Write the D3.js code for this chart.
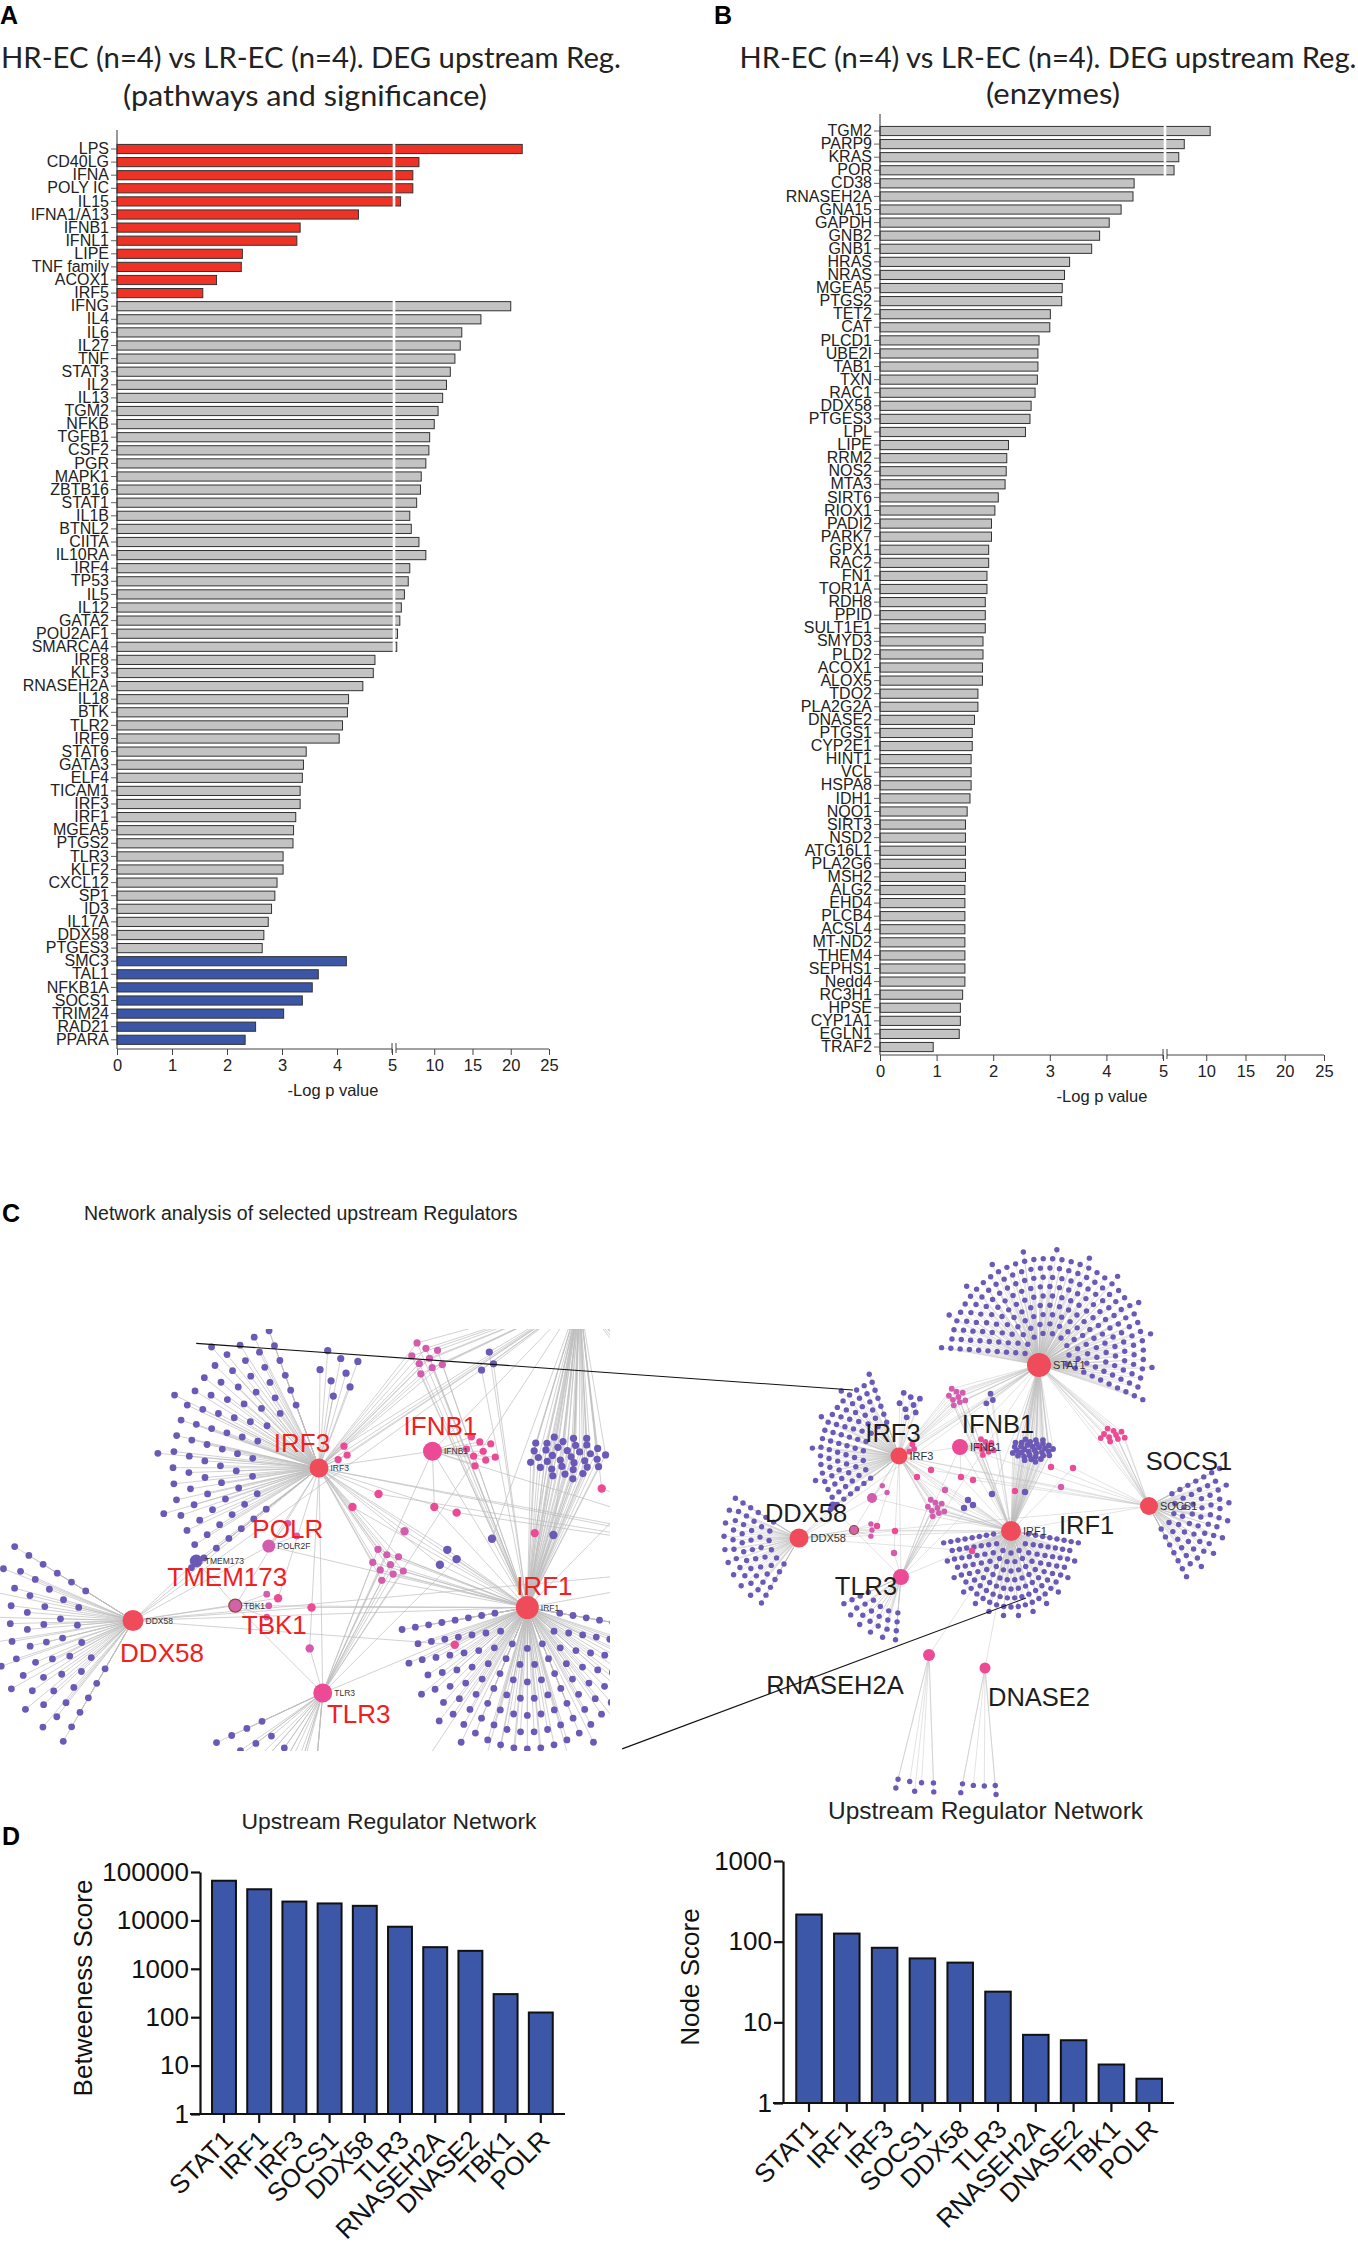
<!DOCTYPE html>
<html>
<head>
<meta charset="utf-8">
<script src="https://d3js.org/d3.v7.min.js"></script>
<style>
  body { margin: 0; background: #fff; }
  text { font-family: "Liberation Sans", Arial, sans-serif; }
</style>
</head>
<body>
<svg id="fig" width="1358" height="2243"></svg>
<script>
// ---------------- data ----------------
// A: upstream regulators (pathways and significance), -log p
const activatedRegulators = ["LPS","CD40LG","IFNA","POLY IC","IL15","IFNA1/A13","IFNB1","IFNL1","LIPE","TNF family","ACOX1","IRF5"];
const activatedValues = [21.5, 8.0, 7.2, 7.2, 5.6, 4.39, 3.33, 3.27, 2.28, 2.26, 1.81, 1.56];
const neutralRegulators = ["IFNG","IL4","IL6","IL27","TNF","STAT3","IL2","IL13","TGM2","NFKB","TGFB1","CSF2","PGR","MAPK1","ZBTB16",
  "STAT1","IL1B","BTNL2","CIITA","IL10RA","IRF4","TP53","IL5","IL12","GATA2","POU2AF1","SMARCA4","IRF8","KLF3","RNASEH2A",
  "IL18","BTK","TLR2","IRF9","STAT6","GATA3","ELF4","TICAM1","IRF3","IRF1","MGEA5","PTGS2","TLR3","KLF2","CXCL12","SP1","ID3",
  "IL17A","DDX58","PTGES3"];
const neutralValues = [20.0, 16.1, 13.6, 13.4, 12.7, 12.1, 11.6, 11.1, 10.5, 10.0, 9.4, 9.3, 8.9, 8.3, 8.2,
  7.7, 6.8, 7.0, 8.0, 8.9, 6.8, 6.6, 6.1, 5.7, 5.5, 5.2, 5.1, 4.69, 4.66, 4.47,
  4.21, 4.19, 4.10, 4.04, 3.44, 3.39, 3.37, 3.33, 3.33, 3.25, 3.21, 3.20, 3.02, 3.02, 2.91, 2.87, 2.81,
  2.75, 2.67, 2.64];
const inhibitedRegulators = ["SMC3","TAL1","NFKB1A","SOCS1","TRIM24","RAD21","PPARA"];
const inhibitedValues = [4.17, 3.66, 3.55, 3.37, 3.03, 2.52, 2.33];

// B: upstream regulators (enzymes), -log p
const enzymeRegulators = ["TGM2","PARP9","KRAS","POR","CD38","RNASEH2A","GNA15","GAPDH","GNB2","GNB1","HRAS","NRAS","MGEA5",
  "PTGS2","TET2","CAT","PLCD1","UBE2I","TAB1","TXN","RAC1","DDX58","PTGES3","LPL","LIPE","RRM2","NOS2","MTA3","SIRT6","RIOX1",
  "PADI2","PARK7","GPX1","RAC2","FN1","TOR1A","RDH8","PPID","SULT1E1","SMYD3","PLD2","ACOX1","ALOX5","TDO2","PLA2G2A","DNASE2",
  "PTGS1","CYP2E1","HINT1","VCL","HSPA8","IDH1","NQO1","SIRT3","NSD2","ATG16L1","PLA2G6","MSH2","ALG2","EHD4","PLCB4","ACSL4",
  "MT-ND2","THEM4","SEPHS1","Nedd4","RC3H1","HPSE","CYP1A1","EGLN1","TRAF2"];
const enzymeValues = [10.5, 7.2, 6.5, 5.9, 4.49, 4.47, 4.26, 4.05, 3.88, 3.74, 3.35, 3.26, 3.22,
  3.21, 3.01, 3.00, 2.81, 2.79, 2.79, 2.78, 2.74, 2.67, 2.65, 2.57, 2.27, 2.24, 2.23, 2.21, 2.09, 2.03,
  1.97, 1.97, 1.92, 1.92, 1.89, 1.89, 1.86, 1.86, 1.86, 1.82, 1.82, 1.81, 1.81, 1.73, 1.73, 1.67,
  1.63, 1.63, 1.61, 1.61, 1.61, 1.59, 1.54, 1.51, 1.51, 1.51, 1.51, 1.51, 1.50, 1.50, 1.50, 1.50,
  1.50, 1.50, 1.50, 1.50, 1.46, 1.42, 1.42, 1.40, 0.94];
const logPTicks = [0, 1, 2, 3, 4, 5, 10, 15, 20, 25];

// D: network scores
const networkRegulators = ["STAT1","IRF1","IRF3","SOCS1","DDX58","TLR3","RNASEH2A","DNASE2","TBK1","POLR"];
const betweennessScore = [66000, 44000, 24500, 22400, 20000, 7400, 2800, 2350, 300, 125];
const nodeScore = [217, 126, 84, 62, 55, 24, 7, 6, 3, 2];
const betweennessTicks = [1, 10, 100, 1000, 10000, 100000];
const nodeScoreTicks = [1, 10, 100, 1000];

// C: network layout (network units), links between regulators and shared targets
const netHubs = [
  {id:"STAT1", u:339, v:115, r:12, rz:13, col:"red"},
  {id:"IRF3", u:199, v:206, r:8.5, rz:9.5, col:"red"},
  {id:"IFNB1", u:260, v:197, r:8, rz:9.5, col:"pink"},
  {id:"IRF1", u:311, v:281, r:10, rz:11.5, col:"red"},
  {id:"SOCS1", u:449, v:256, r:9, rz:10, col:"red"},
  {id:"DDX58", u:99, v:288, r:9.5, rz:10.5, col:"red"},
  {id:"TLR3", u:201, v:327, r:8, rz:9.5, col:"pink"},
  {id:"RNASEH2A", u:229, v:405, r:6, rz:7, col:"pink"},
  {id:"DNASE2", u:285, v:418, r:5.5, rz:6.5, col:"pink"},
  {id:"POLR", u:172, v:248, r:5, rz:6.5, col:"magenta"},
  {id:"TMEM173", u:133, v:256, r:4.5, rz:6.5, col:"purple"},
  {id:"TBK1", u:154, v:280, r:4.5, rz:6.5, col:"tbk"}
];
// fan of target nodes around each regulator (angles in degrees, y up)
const netFans = {
  STAT1: {a0:-25, a1:176, r0:22, gap:9.3, du:8, dv:-10, col:"purple"},
  IRF1: {a0:-172, a1:-8, r0:22, gap:9, sx:0.8, col:"purple"},
  IRF3: {a0:110, a1:218, r0:36, gap:8.5, col:"purple"},
  SOCS1: {a0:-62, a1:28, r0:26, gap:9, col:"purple"},
  DDX58: {a0:148, a1:240, r0:30, gap:9, col:"purple"},
  TLR3: {a0:205, a1:265, r0:36, gap:9, col:"purple"},
  RNASEH2A: {a0:256, a1:272, r0:128, gap:9, col:"purple"},
  DNASE2: {a0:259, a1:275, r0:118, gap:9, col:"purple"},
  TBK1: {a0:-20, a1:20, r0:18, gap:6, col:"magenta"},
  POLR: {a0:20, a1:50, r0:16, gap:6, col:"magenta"}
};
const netClusters = [
  {u:256, v:147, n:9, s:3.4, col:"magenta", to:["STAT1","IRF3","IRF1"]},
  {u:290, v:150, n:3, s:4, col:"purple", to:["STAT1","IRF1"]},
  {u:332, v:200, n:35, s:3, ax:1.2, ay:0.7, col:"purple", to:["STAT1","IRF1"]},
  {u:413, v:185, n:10, s:3.3, ax:1.3, ay:0.8, col:"pink", to:["STAT1","SOCS1"]},
  {u:235, v:258, n:9, s:3.4, col:"magenta", to:["IRF3","IRF1","TLR3"]},
  {u:285, v:197, n:9, s:3.2, col:"pink", to:["IFNB1"]},
  {u:210, v:155, n:8, s:5, col:"purple", to:["IRF3"]},
  {u:212, v:199, n:3, s:3, col:"pink", to:["IRF3","STAT1"]}
];
const netSingles = [
  {u:217, v:227, col:"pink", to:["IRF3","IRF1"]},
  {u:231, v:220, col:"pink", to:["IRF3","SOCS1"]},
  {u:261, v:227, col:"pink", to:["IFNB1","IRF1"]},
  {u:273, v:230, col:"pink", to:["IRF3","SOCS1"]},
  {u:245, v:240, col:"magenta", to:["IRF3","IRF1"]},
  {u:351, v:217, col:"pink", to:["STAT1","SOCS1"]},
  {u:373, v:218, col:"pink", to:["IRF1","SOCS1"]},
  {u:361, v:237, col:"magenta", to:["IRF3","SOCS1"]},
  {u:315, v:241, col:"pink", to:["IRF1","STAT1"]},
  {u:195, v:281, col:"pink", to:["DDX58","IRF1"]},
  {u:194, v:303, col:"magenta", to:["TLR3","IRF3"]},
  {u:272, v:301, col:"pink", to:["IRF1","DDX58"]},
  {u:177, v:276, col:"pink", to:["DDX58","IRF3"]},
  {u:268, v:250, col:"purple", to:["IRF3","IRF1"]},
  {u:273, v:255, col:"purple", to:["IRF1","TLR3"]},
  {u:264, v:258, col:"purple", to:["IRF1","IRF3"]},
  {u:292, v:244, col:"purple", to:["IRF1","STAT1"]},
  {u:325, v:242, col:"purple", to:["STAT1","IRF1"]}
];
const netHubLinks = [["STAT1","IRF1"],["STAT1","IRF3"],["STAT1","SOCS1"],["STAT1","IFNB1"],["STAT1","DDX58"],["STAT1","TLR3"],
  ["IRF3","IFNB1"],["IRF3","IRF1"],["IRF3","DDX58"],["IRF3","TLR3"],["IRF3","SOCS1"],["IRF1","SOCS1"],["IRF1","DDX58"],
  ["IRF1","TLR3"],["IRF1","RNASEH2A"],["IRF1","DNASE2"],["IRF1","IFNB1"],["IFNB1","SOCS1"],["IFNB1","TLR3"],["DDX58","TBK1"],
  ["TBK1","IRF3"],["TBK1","IRF1"],["TMEM173","DDX58"],["TMEM173","IRF3"],["TMEM173","TBK1"],["POLR","IRF3"],["POLR","DDX58"],
  ["POLR","IRF1"],["TLR3","TBK1"],["DDX58","SOCS1"]];
const netZoomLinks = [{from:[133, 139], to:[153, 140]}, {from:[362, 357], to:[326, 348]}];

// ---------------- drawing ----------------
const svg = d3.select("#fig");
const ink = "#222";

function panelLabel(t, x, y) {
  svg.append("text").attr("x", x).attr("y", y).attr("font-size", 25).attr("font-weight", "bold").text(t);
}
function fitText(t, cx, y, size, width, family) {
  svg.append("text").attr("x", cx).attr("y", y).attr("text-anchor", "middle")
    .attr("font-size", size).attr("fill", ink)
    .style("font-family", family)
    .attr("textLength", width).attr("lengthAdjust", "spacingAndGlyphs").text(t);
}

// horizontal bar panel with broken x axis at 5
function drawBarPanel(cfg) {
  const g = svg.append("g");
  const x = d3.scaleLinear().domain([0, 5, 5.0001, 25]).range([cfg.x0, cfg.x5, cfg.x5 + 4, cfg.x25]);
  const y = d3.scaleBand().domain(cfg.genes)
    .range([cfg.bandTop, cfg.bandTop + cfg.step * cfg.genes.length])
    .paddingInner(0.3).paddingOuter(0.15);

  g.selectAll("rect.bar").data(cfg.genes).join("rect").attr("class", "bar")
    .attr("x", x(0)).attr("y", d => y(d))
    .attr("width", (d, i) => x(cfg.values[i]) - x(0))
    .attr("height", y.bandwidth())
    .attr("fill", (d, i) => cfg.fills[i])
    .attr("stroke", "#333").attr("stroke-width", 1);
  // white break stripe through the long bars
  g.selectAll("rect.gap").data(cfg.genes.filter((d, i) => cfg.values[i] > 5)).join("rect").attr("class", "gap")
    .attr("x", x(5) + 0.7).attr("width", x(5.0001) - x(5) - 1.4)
    .attr("y", d => y(d) - 1).attr("height", y.bandwidth() + 2)
    .attr("fill", "#fff");

  const ya = g.append("g").attr("transform", `translate(${cfg.x0},0)`)
    .call(d3.axisLeft(y).tickSize(6).tickSizeOuter(0).tickPadding(2));
  ya.select(".domain").remove();
  ya.selectAll("line").attr("stroke", "#666");
  ya.selectAll("text").attr("font-size", 16).attr("fill", ink).style("font-family", "Liberation Sans, Arial");
  g.append("line").attr("x1", cfg.x0).attr("x2", cfg.x0).attr("y1", cfg.yTop).attr("y2", cfg.axisY)
    .attr("stroke", "#333").attr("stroke-width", 1);

  const xa = g.append("g").attr("transform", `translate(0,${cfg.axisY})`)
    .call(d3.axisBottom(x).tickValues(logPTicks).tickFormat(d3.format("d")).tickSize(6).tickSizeOuter(0).tickPadding(4));
  xa.select(".domain").remove();
  xa.selectAll("line").attr("stroke", "#444");
  xa.selectAll("text").attr("font-size", 16.5).attr("fill", ink).style("font-family", "Liberation Sans, Arial");
  [[x(0), x(5)], [x(5.0001), x(25)]].forEach(([a, b]) =>
    g.append("line").attr("x1", a).attr("x2", b).attr("y1", cfg.axisY).attr("y2", cfg.axisY).attr("stroke", "#444"));
  [x(5), x(5.0001)].forEach(xx =>
    g.append("line").attr("x1", xx).attr("x2", xx).attr("y1", cfg.axisY - 6).attr("y2", cfg.axisY + 4).attr("stroke", "#444"));
  g.append("text").attr("x", (x(0) + x(25)) / 2).attr("y", cfg.axisY + 47).attr("text-anchor", "middle")
    .attr("font-size", 16.5).attr("fill", ink).text("-Log p value");
}

// vertical log-scale bar chart
function drawLogBars(cfg) {
  const g = svg.append("g");
  const x = d3.scaleBand().domain(networkRegulators).range(cfg.xr).paddingInner(cfg.pad).paddingOuter(cfg.pad / 2);
  const y = d3.scaleLog().domain([cfg.ticks[0], cfg.ticks[cfg.ticks.length - 1]]).range([cfg.yBottom, cfg.yTop]);
  g.selectAll("rect").data(networkRegulators).join("rect")
    .attr("x", d => x(d)).attr("width", x.bandwidth())
    .attr("y", (d, i) => y(cfg.values[i])).attr("height", (d, i) => cfg.yBottom - y(cfg.values[i]))
    .attr("fill", "#3C57A8").attr("stroke", "#111").attr("stroke-width", 2);
  const ya = g.append("g").attr("transform", `translate(${cfg.axisX},0)`)
    .call(d3.axisLeft(y).tickValues(cfg.ticks).tickFormat(d3.format("d")).tickSize(9).tickSizeOuter(0).tickPadding(2));
  ya.select(".domain").attr("stroke", "#111").attr("stroke-width", 2.2);
  ya.selectAll(".tick line").attr("stroke", "#111").attr("stroke-width", 2.2);
  ya.selectAll("text").attr("font-size", 26).attr("fill", "#111").style("font-family", "Liberation Sans, Arial");
  g.append("line").attr("x1", cfg.axisX - 10).attr("x2", cfg.xEnd).attr("y1", cfg.yBottom).attr("y2", cfg.yBottom)
    .attr("stroke", "#111").attr("stroke-width", 2.2);
  g.selectAll("line.xt").data(networkRegulators).join("line").attr("class", "xt")
    .attr("x1", d => x(d) + x.bandwidth() / 2).attr("x2", d => x(d) + x.bandwidth() / 2)
    .attr("y1", cfg.yBottom).attr("y2", cfg.yBottom + 9).attr("stroke", "#111").attr("stroke-width", 2.2);
  g.selectAll("text.xl").data(networkRegulators).join("text").attr("class", "xl")
    .attr("transform", d => `translate(${x(d) + x.bandwidth() / 2 + 4},${cfg.yBottom + 21}) rotate(-45)`)
    .attr("text-anchor", "end").attr("dy", "0.35em").attr("font-size", 26).attr("fill", "#111").text(d => d);
  g.append("text").attr("transform", `translate(${cfg.labelX},${cfg.labelY}) rotate(-90)`)
    .attr("text-anchor", "middle").attr("font-size", 26).attr("fill", "#111").text(cfg.label);
}

// ---------- network helpers ----------
const netColors = {red:"#EF4B5A", pink:"#EC4A94", magenta:"#D35CAE", purple:"#6C58B6", tbk:"#D462A8"};

function fanOffsets(n, f) {
  const out = [];
  const span = (f.a1 - f.a0) * Math.PI / 180;
  let r = f.r0, left = n;
  while (left > 0) {
    const cap = Math.max(1, Math.floor(r * span / f.gap) + 1);
    const k = Math.min(cap, left);
    for (let j = 0; j < k; j++) {
      const t = k === 1 ? 0.5 : j / (k - 1);
      const a = (f.a0 + t * (f.a1 - f.a0)) * Math.PI / 180;
      out.push([(f.du || 0) + r * Math.cos(a) * (f.sx || 1), (f.dv || 0) - r * Math.sin(a)]);
    }
    left -= k; r += f.gap;
  }
  return out;
}
function clusterOffsets(c) {
  return d3.range(c.n).map(i => {
    const r = c.s * Math.sqrt(i + 0.5), a = i * 2.39996;
    return [r * Math.cos(a) * (c.ax || 1), r * Math.sin(a) * (c.ay || 1)];
  });
}

function drawNetworkView(g, xs, ys, view) {
  const hubById = new Map(netHubs.map(h => [h.id, h]));
  const pos = id => [xs(hubById.get(id).u), ys(hubById.get(id).v)];
  const edges = [], dots = [];
  netHubLinks.forEach(([a, b]) => edges.push([pos(a), pos(b)]));
  networkRegulators.forEach((id, i) => {
    const h = hubById.get(id), f = netFans[id];
    fanOffsets(nodeScore[i], f).forEach(([du, dv]) => {
      const p = [xs(h.u + du), ys(h.v + dv)];
      edges.push([pos(id), p]);
      dots.push({p, col: f.col, r: view.satR});
    });
  });
  netClusters.forEach(c => clusterOffsets(c).forEach(([du, dv]) => {
    const p = [xs(c.u + du), ys(c.v + dv)];
    c.to.forEach(id => edges.push([pos(id), p]));
    dots.push({p, col: c.col, r: view.clusterR});
  }));
  netSingles.forEach(s => {
    const p = [xs(s.u), ys(s.v)];
    s.to.forEach(id => edges.push([pos(id), p]));
    dots.push({p, col: s.col, r: view.singleR});
  });

  g.append("g").selectAll("line").data(edges).join("line")
    .attr("x1", d => d[0][0]).attr("y1", d => d[0][1]).attr("x2", d => d[1][0]).attr("y2", d => d[1][1])
    .attr("stroke", "#bdbdbd").attr("stroke-width", view.edgeW).attr("stroke-opacity", 0.85);
  g.append("g").selectAll("circle").data(dots).join("circle")
    .attr("cx", d => d.p[0]).attr("cy", d => d.p[1]).attr("r", d => d.r)
    .attr("fill", d => netColors[d.col]);
  g.append("g").selectAll("circle").data(netHubs).join("circle")
    .attr("cx", d => xs(d.u)).attr("cy", d => ys(d.v)).attr("r", d => view.zoomed ? d.rz : d.r)
    .attr("fill", d => netColors[d.col])
    .attr("stroke", d => d.col === "tbk" ? "#8a4b3c" : "none").attr("stroke-width", 1.2);
}

function drawNetworkLabels(g, xs, ys, view) {
  const hubById = new Map(netHubs.map(h => [h.id, h]));
  view.small.forEach(([id, t]) => {
    const h = hubById.get(id), r = view.zoomed ? h.rz : h.r;
    g.append("text").attr("x", xs(h.u) + r + 2).attr("y", ys(h.v) + view.smallSize * 0.36)
      .attr("font-size", view.smallSize).attr("fill", "#333").text(t);
  });
  view.big.forEach(([id, dx, dy, anchor]) => {
    const h = hubById.get(id);
    g.append("text").attr("x", xs(h.u) + dx).attr("y", ys(h.v) + dy).attr("text-anchor", anchor || "middle")
      .attr("font-size", view.bigSize).attr("fill", view.bigColor).text(id);
  });
}

// ---------------- panels A & B ----------------
panelLabel("A", 0, 24);
fitText("HR-EC (n=4) vs LR-EC (n=4). DEG upstream Reg.", 311, 68, 28, 620, "Lato, 'Open Sans', sans-serif");
fitText("(pathways and significance)", 305, 106, 28, 364, "Lato, 'Open Sans', sans-serif");
const pathwayGenes = activatedRegulators.concat(neutralRegulators, inhibitedRegulators);
const pathwayValues = activatedValues.concat(neutralValues, inhibitedValues);
const pathwayFills = activatedRegulators.map(() => "#EE3326")
  .concat(neutralRegulators.map(() => "#C3C3C3"), inhibitedRegulators.map(() => "#3B56A6"));
drawBarPanel({genes: pathwayGenes, values: pathwayValues, fills: pathwayFills,
  x0: 117, x5: 392, x25: 549, yTop: 130, bandTop: 142.45, step: 13.1, axisY: 1049});

panelLabel("B", 714, 24);
fitText("HR-EC (n=4) vs LR-EC (n=4). DEG upstream Reg.", 1048, 68, 28, 617, "Lato, 'Open Sans', sans-serif");
fitText("(enzymes)", 1053, 104, 28, 134, "Lato, 'Open Sans', sans-serif");
drawBarPanel({genes: enzymeRegulators, values: enzymeValues, fills: enzymeRegulators.map(() => "#C3C3C3"),
  x0: 880, x5: 1163, x25: 1324, yTop: 114, bandTop: 124.46, step: 13.086, axisY: 1055});

// ---------------- panel C ----------------
panelLabel("C", 2, 1222);
svg.append("text").attr("x", 84).attr("y", 1220).attr("font-size", 19.5).attr("fill", ink)
  .text("Network analysis of selected upstream Regulators");

const xsMain = d3.scaleLinear().domain([0, 550]).range([700, 1250]);
const ysMain = d3.scaleLinear().domain([0, 550]).range([1250, 1800]);
const zoomK = 1.86;
const xsZoom = d3.scaleLinear().domain([0, 550]).range([319 - 199 * zoomK, 319 + 351 * zoomK]);
const ysZoom = d3.scaleLinear().domain([0, 550]).range([1468 - 206 * zoomK, 1468 + 344 * zoomK]);

svg.append("defs").append("clipPath").attr("id", "insetClip")
  .append("rect").attr("x", 0).attr("y", 1329).attr("width", 610).attr("height", 422);

const insetG = svg.append("g").attr("clip-path", "url(#insetClip)");
drawNetworkView(insetG, xsZoom, ysZoom, {zoomed: true, satR: 3.4, clusterR: 3.6, singleR: 4.2, edgeW: 0.8});
const mainG = svg.append("g");
drawNetworkView(mainG, xsMain, ysMain, {zoomed: false, satR: 2.7, clusterR: 2.9, singleR: 3.2, edgeW: 0.5});

drawNetworkLabels(svg.append("g"), xsZoom, ysZoom, {
  zoomed: true, smallSize: 8.5, bigSize: 26, bigColor: "#F0201E",
  small: [["IRF3","IRF3"],["IFNB1","IFNB1"],["POLR","POLR2F"],["TMEM173","TMEM173"],["TBK1","TBK1"],["DDX58","DDX58"],["TLR3","TLR3"],["IRF1","IRF1"]],
  big: [["IRF3",-17,-16],["IFNB1",8,-16],["POLR",19,-8],["TMEM173",31,25],["TBK1",39,28],["DDX58",29,41],["TLR3",36,30],["IRF1",17,-13]]
});
drawNetworkLabels(svg.append("g"), xsMain, ysMain, {
  zoomed: false, smallSize: 11, bigSize: 25.5, bigColor: "#1e1e1e",
  small: [["STAT1","STAT1"],["IRF3","IRF3"],["IFNB1","IFNB1"],["SOCS1","SOCS1"],["IRF1","IRF1"],["DDX58","DDX58"]],
  big: [["IRF3",-6,-14],["IFNB1",38,-14],["SOCS1",40,-36],["IRF1",48,3,"start"],["DDX58",7,-16],["TLR3",-35,18],["RNASEH2A",-94,39],["DNASE2",54,38]]
});

// zoom connector lines between inset and overview
svg.append("g").selectAll("line").data(netZoomLinks).join("line")
  .attr("x1", d => xsZoom(d.from[0])).attr("y1", d => ysZoom(d.from[1]))
  .attr("x2", d => xsMain(d.to[0])).attr("y2", d => ysMain(d.to[1]))
  .attr("stroke", "#111").attr("stroke-width", 1.1);

fitText("Upstream Regulator Network", 985.5, 1819, 24, 315, "Liberation Sans, Arial");

// ---------------- panel D ----------------
panelLabel("D", 2, 1845);
fitText("Upstream Regulator Network", 389, 1829, 22.7, 295, "Liberation Sans, Arial");
drawLogBars({values: betweennessScore, ticks: betweennessTicks, xr: [206.4, 558.4], pad: 0.32,
  yBottom: 2114, yTop: 1872, axisX: 200, xEnd: 565, label: "Betweeness Score", labelX: 92, labelY: 1988});
drawLogBars({values: nodeScore, ticks: nodeScoreTicks, xr: [790.1, 1168.1], pad: 0.325,
  yBottom: 2103, yTop: 1861, axisX: 783, xEnd: 1174, label: "Node Score", labelX: 699, labelY: 1977});
</script>
</body>
</html>
